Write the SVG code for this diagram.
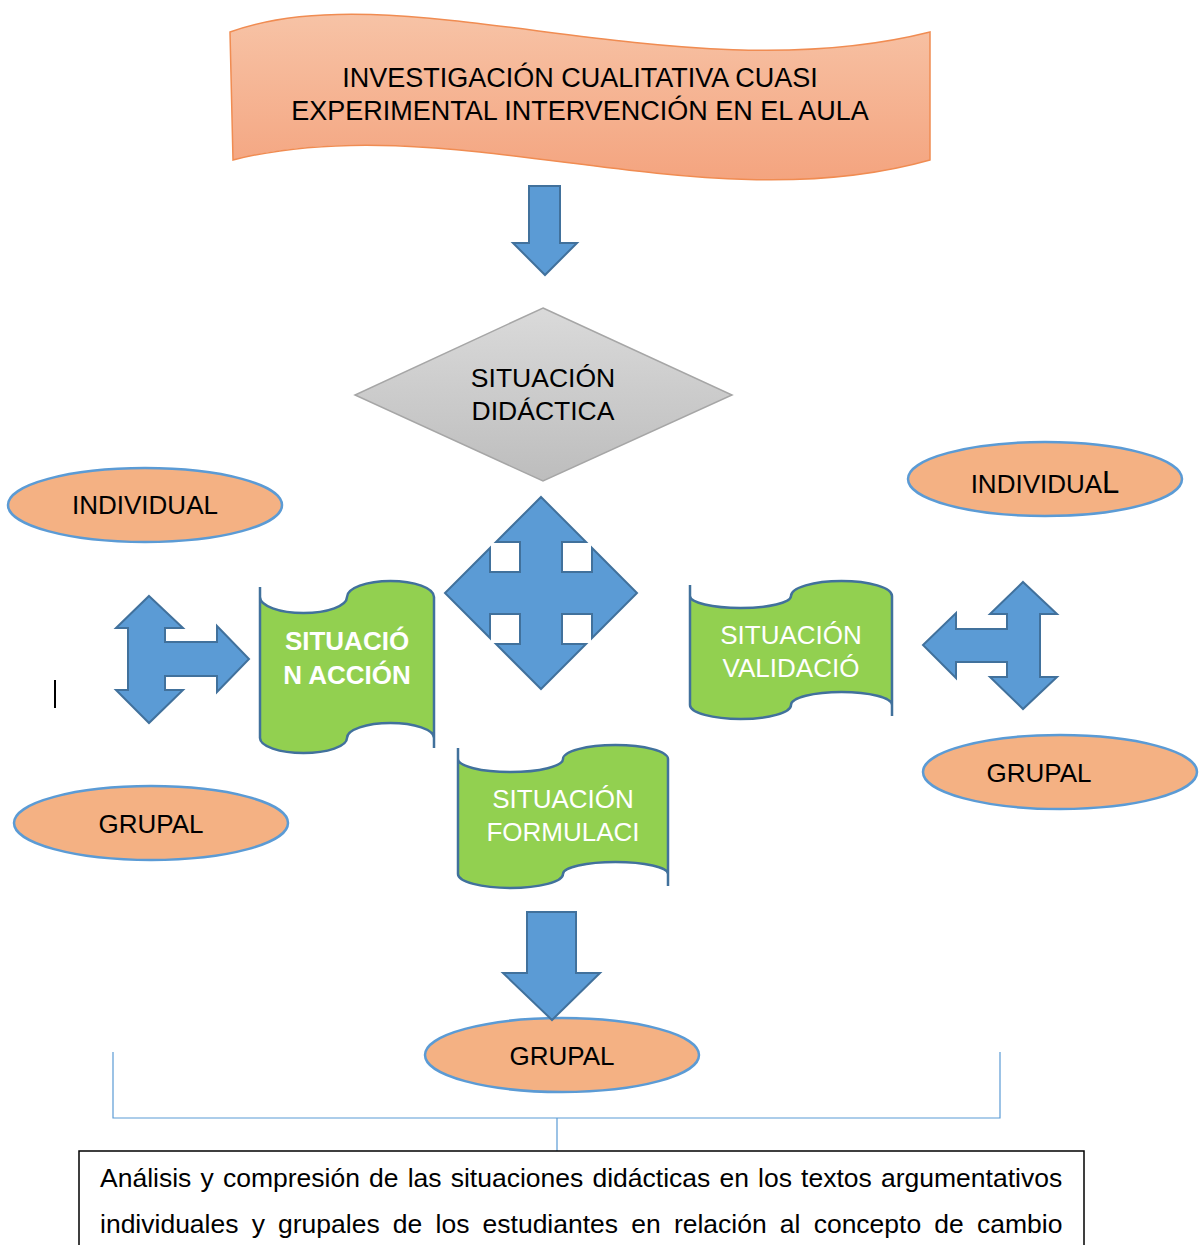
<svg xmlns="http://www.w3.org/2000/svg" width="1200" height="1245" viewBox="0 0 1200 1245">
<defs>
<linearGradient id="gOrange" x1="0" y1="0" x2="0" y2="1">
<stop offset="0" stop-color="#f7c3a6"/>
<stop offset="1" stop-color="#f4a47f"/>
</linearGradient>
<linearGradient id="gGray" x1="0" y1="0" x2="0" y2="1">
<stop offset="0" stop-color="#dadada"/>
<stop offset="1" stop-color="#bdbdbd"/>
</linearGradient>
</defs>
<style>
text{font-family:"Liberation Sans",Arial,sans-serif;font-size:26px;fill:#000;text-anchor:middle}
.ell{fill:#f4b183;stroke:#5b9bd5;stroke-width:2.5}
.arrow{fill:#5b9bd5;stroke:#41719c;stroke-width:2;stroke-linejoin:miter}
.tape{fill:#92d050;stroke:#41719c;stroke-width:2.5}
.edge{fill:none;stroke:#41719c;stroke-width:2.5}
.wt{fill:#fff}
.conn{fill:none;stroke:#5b9bd5;stroke-width:1.2}
.para{font-size:26.5px;text-anchor:start}
</style>

<g id="banner">
<path d="M230,32 C400,-30 680,95 930,32 L930,160 C700,225 450,105 233,160 Z" fill="url(#gOrange)" stroke="#f08c52" stroke-width="1.5"/>
<text x="580" y="87" style="font-size:27px">INVESTIGACIÓN CUALITATIVA CUASI</text>
<text x="580" y="120" style="font-size:27px">EXPERIMENTAL INTERVENCIÓN EN EL AULA</text>
</g>

<g id="arrow-top">
<polygon class="arrow" points="529,186 560,186 560,243 577,243 545,275 513,243 529,243"/>
</g>

<g id="diamond">
<polygon points="543,308 732,395 543,481 355,395" fill="url(#gGray)" stroke="#a6a6a6" stroke-width="1.5"/>
<text x="543" y="387" style="font-size:26.5px">SITUACIÓN</text>
<text x="543" y="420" style="font-size:26.5px">DIDÁCTICA</text>
</g>

<g id="arrow-cross">
<polygon class="arrow" points="541,497 586,542 562,542 562,572 592,572 592,548 637,593 592,638 592,614 562,614 562,644 586,644 541,689 496,644 520,644 520,614 490,614 490,638 445,593 490,548 490,572 520,572 520,542 496,542"/>
</g>

<g id="ind-left">
<ellipse class="ell" cx="145" cy="505" rx="137" ry="37"/>
<text x="145" y="514">INDIVIDUAL</text>
</g>

<g id="ind-right">
<ellipse class="ell" cx="1045" cy="479" rx="137" ry="37"/>
<text x="1045" y="493">INDIVIDUA<tspan style="font-size:31px">L</tspan></text>
</g>

<g id="arrow-left">
<polygon class="arrow" points="149,596 183,628 165,628 165,642 217,642 217,626 249,659 217,692 217,676 165,676 165,690 183,690 149,723 116,690 128,690 128,628 116,628"/>
</g>

<g id="arrow-right">
<polygon class="arrow" points="1023,582 1057,614 1040,614 1040,677 1057,677 1023,709 990,677 1007,677 1007,662 956,662 956,678 923,645 956,613 956,629 1007,629 1007,614 990,614"/>
</g>

<g id="sit-accion">
<path class="tape" d="M260,597 A43.5,16 0 0 0 347,597 A43.5,16 0 0 1 434,597 L434,738 A43.5,15 0 0 0 347,738 A43.5,15 0 0 1 260,738 Z"/>
<path class="edge" d="M260,587 L260,597 M434,738 L434,748"/>
<text x="347" y="650" class="wt" style="font-weight:bold">SITUACIÓ</text>
<text x="347" y="684" class="wt" style="font-weight:bold">N ACCIÓN</text>
</g>

<g id="sit-validacion">
<path class="tape" d="M690,596 A50.5,12 0 0 0 791,596 A50.5,15 0 0 1 892,596 L892,705 A50.5,13 0 0 0 791,705 A50.5,14 0 0 1 690,705 Z"/>
<path class="edge" d="M690,585 L690,596 M892,705 L892,716"/>
<text x="791" y="644" class="wt">SITUACIÓN</text>
<text x="791" y="677" class="wt">VALIDACIÓ</text>
</g>

<g id="sit-formulacion">
<path class="tape" d="M458,759 A52.5,13 0 0 0 563,759 A52.5,14 0 0 1 668,759 L668,874 A52.5,12 0 0 0 563,874 A52.5,14 0 0 1 458,874 Z"/>
<path class="edge" d="M458,748 L458,759 M668,874 L668,886"/>
<text x="563" y="808" class="wt">SITUACIÓN</text>
<text x="563" y="841" class="wt">FORMULACI</text>
</g>

<g id="grupal-left">
<ellipse class="ell" cx="151" cy="823" rx="137" ry="37"/>
<text x="151" y="833">GRUPAL</text>
</g>

<g id="grupal-right">
<ellipse class="ell" cx="1060" cy="772" rx="137" ry="37"/>
<text x="1039" y="782">GRUPAL</text>
</g>

<g id="grupal-bottom">
<ellipse class="ell" cx="562" cy="1055" rx="137" ry="37"/>
<text x="562" y="1065">GRUPAL</text>
</g>

<g id="arrow-bottom">
<polygon class="arrow" points="527,912 576,912 576,973 600,973 552,1020 503,973 527,973"/>
</g>

<g id="connectors">
<path class="conn" d="M113,1052 L113,1118 L1000,1118 L1000,1052 M557,1118 L557,1151"/>
</g>

<g id="cursor">
<line x1="55" y1="680" x2="55" y2="708" stroke="#000" stroke-width="2"/>
</g>

<g id="result">
<rect x="79" y="1151" width="1005" height="110" fill="#fff" stroke="#000" stroke-width="1.5"/>
<text x="100" y="1187" class="para" style="word-spacing:1.8px">Análisis y compresión de las situaciones didácticas en los textos argumentativos</text>
<text x="100" y="1233" class="para" style="word-spacing:5.8px">individuales y grupales de los estudiantes en relación al concepto de cambio</text>
</g>
</svg>
